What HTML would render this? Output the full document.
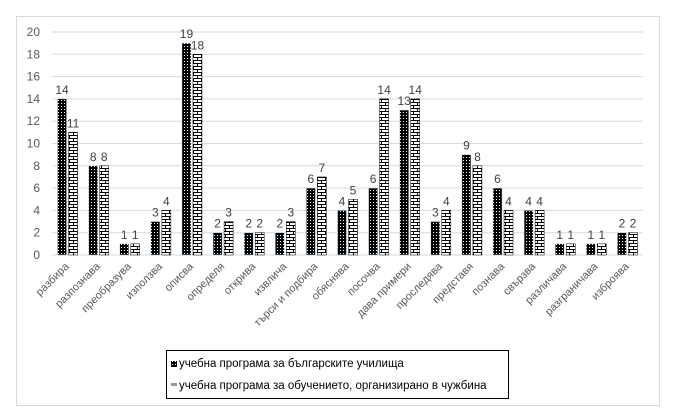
<!DOCTYPE html>
<html><head><meta charset="utf-8"><style>
html,body{margin:0;padding:0;background:#fff;width:676px;height:415px;overflow:hidden}
</style></head><body>
<svg width="676" height="415" xmlns="http://www.w3.org/2000/svg" font-family="Liberation Sans, sans-serif">
<defs>
<pattern id="dot" width="3" height="3" patternUnits="userSpaceOnUse">
<rect width="3" height="3" fill="#000"/><rect x="1" y="1" width="1" height="1" fill="#fff"/>
</pattern>
<pattern id="brick" width="8" height="6" patternUnits="userSpaceOnUse">
<rect width="8" height="6" fill="#fff"/>
<rect y="0" width="8" height="1" fill="#000"/><rect y="3" width="8" height="1" fill="#000"/>
<rect x="1" y="0" width="1" height="3" fill="#000"/><rect x="5" y="3" width="1" height="3" fill="#000"/>
</pattern>
</defs>
<rect x="16.5" y="16.5" width="643" height="389" fill="#fff" stroke="#d9d9d9"/>
<g id="chart"></g>
<rect x="166.5" y="350.5" width="342" height="48" fill="#fff" stroke="#000"/>
<rect x="171" y="361" width="6" height="6" fill="url(#dot)"/>
<text x="179" y="367" font-size="11.5" fill="#000">учебна програма за българските училища</text>
<rect x="171" y="383" width="6" height="3" fill="#999"/>
<text x="179" y="389" font-size="11.5" fill="#000">учебна програма за обучението, организирано в чужбина</text>
</svg>
<script>
const a=[14,8,1,3,19,2,2,2,6,4,6,13,3,9,6,4,1,1,2];
const b=[11,8,1,4,18,3,2,3,7,5,14,14,4,8,4,4,1,1,2];
const n=["разбира","разпознава","преобразува","използва","описва","определя","открива","извлича","търси и подбира","обяснява","посочва","дава примери","проследява","представя","познава","свързва","различава","разграничава","изброява"];
const x0=52,x1=643,y0=255,u=11.15,w=(x1-x0)/n.length;
let s="";
for(let i=0;i<=10;i++){const y=y0-i*2*u;s+=`<line x1="${x0}" x2="${x1}" y1="${y.toFixed(1)}" y2="${y.toFixed(1)}" stroke="#d9d9d9"/><text x="40" y="${(y+4).toFixed(1)}" font-size="12" fill="#595959" text-anchor="end">${i*2}</text>`;}
n.forEach((t,i)=>{const c=x0+w*(i+0.5);
const ha=a[i]*u,hb=b[i]*u;
s+=`<rect x="${c-10}" y="${y0-ha}" width="9" height="${ha}" fill="url(#dot)" stroke="#bdd7ee" stroke-width="0.5"/>`;
s+=`<rect x="${c+1}" y="${y0-hb}" width="9" height="${hb}" fill="url(#brick)" stroke="#000" stroke-width="0.5"/>`;
s+=`<text x="${c-5.5}" y="${y0-ha-5}" font-size="12" fill="#404040" text-anchor="middle">${a[i]}</text>`;
s+=`<text x="${c+5.5}" y="${y0-hb-5}" font-size="12" fill="#404040" text-anchor="middle">${b[i]}</text>`;
s+=`<text transform="translate(${c+2},${y0+12}) rotate(-45)" font-size="11" fill="#595959" text-anchor="end">${t}</text>`;});
document.getElementById("chart").innerHTML=s;
</script>
</body></html>
